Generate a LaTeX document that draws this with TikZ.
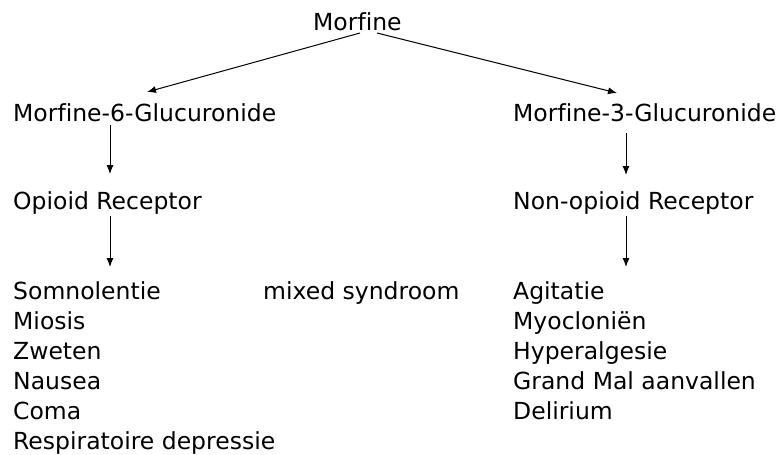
\documentclass[tikz,border=0pt]{standalone}
\usepackage{fontspec}
\setmainfont{DejaVu Sans}[Ligatures=NoCommon]
\usetikzlibrary{arrows.meta}
\begin{document}
\begin{tikzpicture}[x=1pt,y=-1pt,
  lbl/.style={anchor=base west,inner sep=0pt,font=\fontsize{23.5}{28}\selectfont},
  arr/.style={line width=1pt,-{Latex[length=9pt,width=7pt]}}]
\path[use as bounding box,fill=white] (0,0) rectangle (779,455);
% nodes
\node[lbl] (morf) at (313,30) {Morfine};
\node[lbl] (m6) at (13,121) {Morfine-6-Glucuronide};
\node[lbl] (m3) at (513,121) {Morfine-3-Glucuronide};
\node[lbl] (op) at (13,209) {Opioid Receptor};
\node[lbl] (nop) at (513,209) {Non-opioid Receptor};
\node[lbl] (s1) at (13,299) {Somnolentie};
\node[lbl] (s2) at (13,329) {Miosis};
\node[lbl] (s3) at (13,359) {Zweten};
\node[lbl] (s4) at (13,389) {Nausea};
\node[lbl] (s5) at (13,419) {Coma};
\node[lbl] (s6) at (13,449) {Respiratoire depressie};
\node[lbl] (mix) at (263,299) {mixed syndroom};
\node[lbl] (r1) at (513,299) {Agitatie};
\node[lbl] (r2) at (513,329) {Myocloniën};
\node[lbl] (r3) at (513,359) {Hyperalgesie};
\node[lbl] (r4) at (513,389) {Grand Mal aanvallen};
\node[lbl] (r5) at (513,419) {Delirium};
% connector end points
\coordinate (ml) at (360,33);
\coordinate (mr) at (377,33);
\coordinate (m6t) at (147,92);
\coordinate (m3t) at (617,93);
\coordinate (a1s) at (110,125);
\coordinate (a1e) at (110,174);
\coordinate (a2s) at (110,216);
\coordinate (a2e) at (110,267);
\coordinate (b1s) at (626,133);
\coordinate (b1e) at (626,175);
\coordinate (b2s) at (626,216);
\coordinate (b2e) at (626,267);
% connectors
\draw[arr] (ml) -- (m6t);
\draw[arr] (mr) -- (m3t);
\draw[arr] (a1s) -- (a1e);
\draw[arr] (a2s) -- (a2e);
\draw[arr] (b1s) -- (b1e);
\draw[arr] (b2s) -- (b2e);
\end{tikzpicture}
\end{document}
